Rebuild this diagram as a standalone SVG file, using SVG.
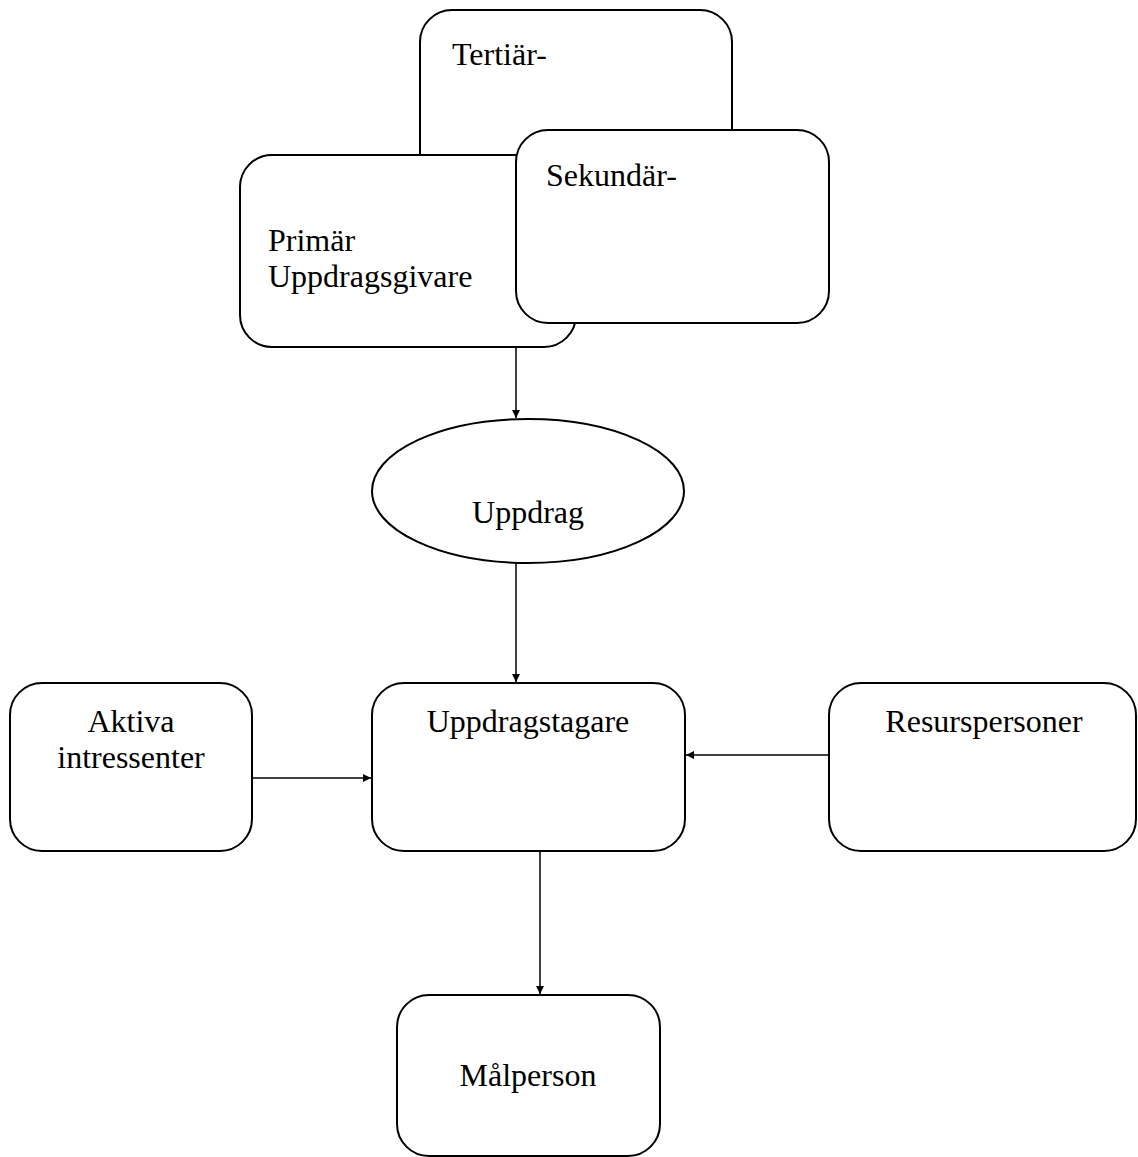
<svg xmlns="http://www.w3.org/2000/svg" width="1138" height="1157" viewBox="0 0 1138 1157">
<style>
.n{fill:#fff;stroke:#000;stroke-width:2}
.t{font-family:"Liberation Serif","Times New Roman",serif;font-size:32px;fill:#000}
.c{text-anchor:middle}
.e{fill:none;stroke:#000;stroke-width:1.5}
</style>
<defs>
<marker id="ah" viewBox="0 0 10 10" refX="10" refY="5" markerWidth="5.5" markerHeight="5.5" orient="auto" markerUnits="strokeWidth">
<path d="M0,0 L10,5 L0,10 z" fill="#000"/>
</marker>
</defs>
<rect width="1138" height="1157" fill="#fff"/>
<g id="tertiar">
<rect class="n" x="420" y="10" width="312" height="200" rx="32"/>
<text class="t" x="452" y="65">Tertiär-</text>
</g>
<g id="primar">
<rect class="n" x="240" y="155" width="336" height="192" rx="32"/>
<text class="t" x="268" y="251">Primär</text>
<text class="t" x="268" y="287">Uppdragsgivare</text>
</g>
<g id="sekundar">
<rect class="n" x="516" y="130" width="313" height="193" rx="32"/>
<text class="t" x="546" y="186">Sekundär-</text>
</g>
<g id="uppdrag">
<ellipse class="n" cx="528" cy="491" rx="156" ry="72"/>
<text class="t c" x="528" y="523">Uppdrag</text>
</g>
<g id="aktiva">
<rect class="n" x="10" y="683" width="242" height="168" rx="32"/>
<text class="t c" x="131" y="732">Aktiva</text>
<text class="t c" x="131" y="768">intressenter</text>
</g>
<g id="uppdragstagare">
<rect class="n" x="372" y="683" width="313" height="168" rx="32"/>
<text class="t c" x="528" y="732">Uppdragstagare</text>
</g>
<g id="resurspersoner">
<rect class="n" x="829" y="683" width="307" height="168" rx="32"/>
<text class="t c" x="984" y="732">Resurspersoner</text>
</g>
<g id="malperson">
<rect class="n" x="397" y="995" width="263" height="161" rx="32"/>
<text class="t c" x="528" y="1086">Målperson</text>
</g>
<g id="connectors">
<line class="e" x1="516" y1="347" x2="516" y2="418" marker-end="url(#ah)"/>
<line class="e" x1="516" y1="563" x2="516" y2="682" marker-end="url(#ah)"/>
<line class="e" x1="252" y1="778" x2="371" y2="778" marker-end="url(#ah)"/>
<line class="e" x1="829" y1="755" x2="686" y2="755" marker-end="url(#ah)"/>
<line class="e" x1="540" y1="851" x2="540" y2="994" marker-end="url(#ah)"/>
</g>
</svg>
